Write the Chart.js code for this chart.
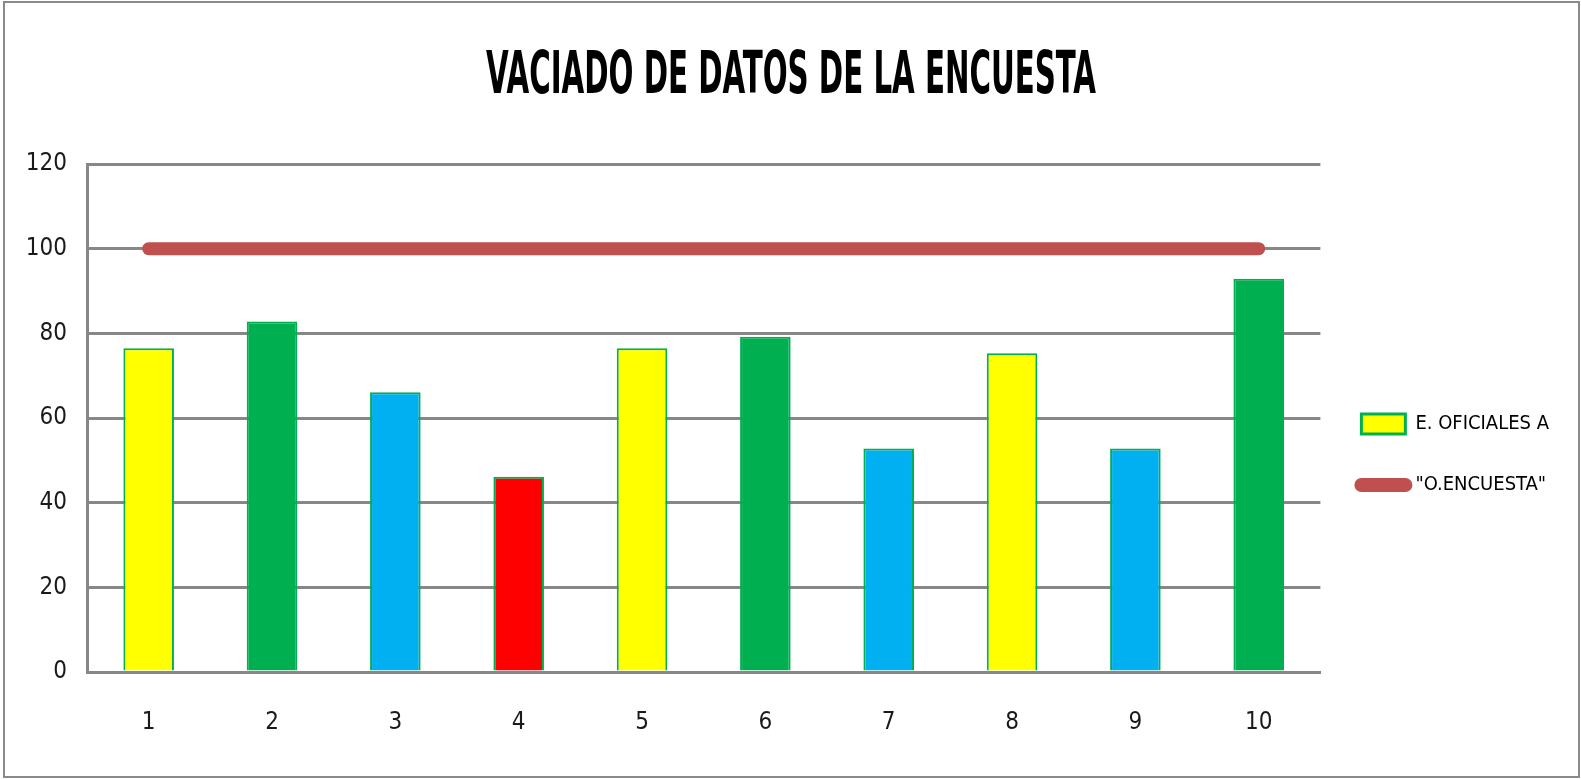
<!DOCTYPE html>
<html>
<head>
<meta charset="utf-8">
<title>Vaciado de datos de la encuesta</title>
<script src="https://cdn.jsdelivr.net/npm/chart.js@4.4.1/dist/chart.umd.min.js"></script>
<style>
    html, body { margin: 0; padding: 0; background: #fff; }
    #wrap { position: absolute; left: 0; top: 0; width: 1581px; height: 779px; }
    #frame {
        position: absolute; left: 3px; top: 1px; width: 1577px; height: 777px;
        border: 2px solid #8a8a8a; box-sizing: border-box; pointer-events: none;
    }
</style>
</head>
<body>
<div id="wrap"><canvas id="chart"></canvas></div>
<div id="frame"></div>
<script>
const chartTitle = 'VACIADO DE DATOS DE LA ENCUESTA';
const categories = ['1', '2', '3', '4', '5', '6', '7', '8', '9', '10'];

const oficialesLabel = 'E. OFICIALES A';
const oficialesValues = [76.5, 82.8, 66.1, 46.1, 76.5, 79.2, 52.8, 75.3, 52.8, 92.9];
const barColors = ['#FFFF00', '#00B050', '#00B0F0', '#FF0000', '#FFFF00',
                   '#00B050', '#00B0F0', '#FFFF00', '#00B0F0', '#00B050'];

const encuestaLabel = '"O.ENCUESTA"';
const encuestaValues = [100, 100, 100, 100, 100, 100, 100, 100, 100, 100];

const yMin = 0, yMax = 120, yStep = 20;

const NARROW = '"Liberation Sans Narrow", "Arial Narrow", "DejaVu Sans Condensed", sans-serif';
const GRID = '#878787';
const TEXT = '#1a1a1a';

// title is drawn condensed, like the spreadsheet original
const titlePlugin = {
    id: 'condensedTitle',
    afterDraw(chart) {
        const ctx = chart.ctx;
        ctx.save();
        ctx.font = `bold 58px ${NARROW}`;
        const w = ctx.measureText(chartTitle).width;
        ctx.translate(791, 93);
        ctx.scale(610 / w, 1);
        ctx.textAlign = 'center';
        ctx.textBaseline = 'alphabetic';
        ctx.fillStyle = '#000';
        ctx.fillText(chartTitle, 0, 0);
        ctx.restore();
    }
};

Chart.defaults.font.family = NARROW;
Chart.defaults.color = TEXT;

new Chart(document.getElementById('chart'), {
    type: 'bar',
    data: {
        labels: categories,
        datasets: [{
            label: oficialesLabel,
            data: oficialesValues,
            backgroundColor: barColors,
            borderColor: '#00B050',
            borderWidth: 2,
            barPercentage: 0.41,
            categoryPercentage: 1,
            order: 2
        }, {
            type: 'line',
            label: encuestaLabel,
            data: encuestaValues,
            borderColor: '#C0504D',
            backgroundColor: '#C0504D',
            borderWidth: 13,
            borderCapStyle: 'round',
            pointRadius: 0,
            order: 1
        }]
    },
    options: {
        responsive: true,
        maintainAspectRatio: false,
        animation: false,
        layout: { padding: { top: 164, right: 22, bottom: 34, left: 0 } },
        scales: {
            y: {
                min: yMin,
                max: yMax,
                ticks: { stepSize: yStep, padding: 20, font: { size: 24 }, color: TEXT },
                grid: { color: GRID, lineWidth: 3, drawTicks: false },
                border: { display: true, color: GRID, width: 3 },
                afterFit: scale => { scale.width = 87; }
            },
            x: {
                ticks: { padding: 36, font: { size: 24 }, color: TEXT },
                grid: { display: false, drawTicks: false },
                border: { display: true, color: GRID, width: 3 },
                afterFit: scale => { scale.height = 73; }
            }
        },
        plugins: {
            title: { display: false },
            tooltip: { enabled: false },
            legend: {
                position: 'right',
                labels: {
                    usePointStyle: true,
                    pointStyleWidth: 44,
                    boxHeight: 20,
                    padding: 41,
                    font: { size: 20 },
                    color: TEXT,
                    generateLabels: () => [
                        { text: oficialesLabel, pointStyle: 'rect', fillStyle: '#FFFF00',
                          strokeStyle: '#00B050', lineWidth: 3, datasetIndex: 0 },
                        { text: encuestaLabel, pointStyle: 'line', fillStyle: '#C0504D',
                          strokeStyle: '#C0504D', lineWidth: 14, lineCap: 'round', datasetIndex: 1 }
                    ]
                }
            }
        }
    },
    plugins: [titlePlugin]
});
</script>
</body>
</html>
